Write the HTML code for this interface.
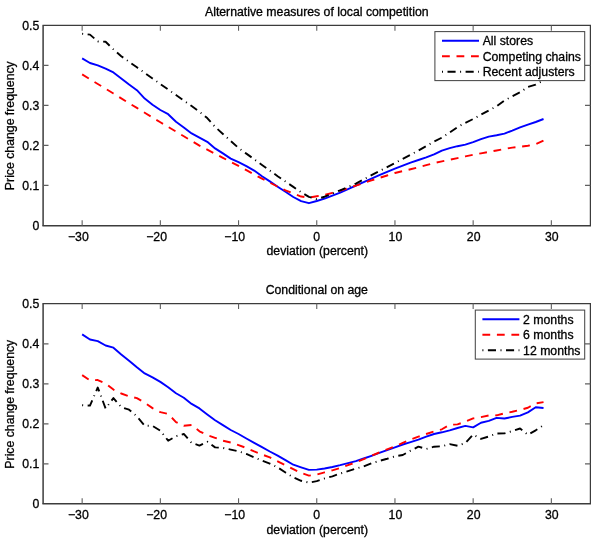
<!DOCTYPE html>
<html><head><meta charset="utf-8"><title>chart</title>
<style>
html,body{margin:0;padding:0;background:#fff;}
svg{display:block;filter:blur(0.3px)}
text{font-family:"Liberation Sans",sans-serif;font-size:12.28px;fill:#000;stroke:#000;stroke-width:0.3px;}
</style></head><body>
<svg width="600" height="539" viewBox="0 0 600 539">
<rect x="0" y="0" width="600" height="539" fill="#fff"/>

<path d="M82.15,58.40 L89.97,63.00 L97.79,65.40 L105.61,68.60 L113.43,72.40 L121.25,78.40 L129.07,84.60 L136.89,90.20 L144.71,98.60 L152.53,104.72 L160.35,110.00 L168.17,114.20 L175.99,121.80 L183.81,127.40 L191.63,133.40 L199.45,137.60 L207.27,141.80 L215.09,148.40 L222.91,153.40 L230.73,158.60 L238.55,162.20 L246.37,166.20 L254.19,170.60 L262.01,176.20 L269.83,181.40 L277.65,186.72 L285.47,191.80 L293.29,197.00 L301.11,201.20 L308.93,203.20 L316.75,201.00 L324.57,198.60 L332.39,195.60 L340.21,192.60 L348.03,189.20 L355.85,185.60 L363.67,182.20 L371.49,178.60 L379.31,175.20 L387.13,171.80 L394.95,168.60 L402.77,165.60 L410.59,162.60 L418.41,160.00 L426.23,157.40 L434.05,154.40 L441.87,150.60 L449.69,148.20 L457.51,146.20 L465.33,144.60 L473.15,142.20 L480.97,139.20 L488.79,136.60 L496.61,135.20 L504.43,133.60 L512.25,130.60 L520.07,127.40 L527.89,124.60 L535.71,122.00 L543.53,119.00" fill="none" stroke="#0000ff" stroke-width="1.9" stroke-linejoin="round"/>
<path d="M82.15,74.40 L89.97,79.19 L97.79,83.98 L105.61,88.76 L113.43,93.55 L121.25,98.34 L129.07,103.13 L136.89,107.92 L144.71,112.70 L152.53,117.49 L160.35,122.28 L168.17,126.94 L175.99,131.61 L183.81,136.27 L191.63,140.94 L199.45,145.60 L207.27,149.66 L215.09,153.73 L222.91,157.79 L230.73,161.86 L238.55,165.92 L246.37,170.17 L254.19,174.43 L262.01,178.68 L269.83,182.64 L277.65,186.60 L285.47,190.28 L293.29,193.60 L301.11,196.52 L308.93,197.52 L316.75,196.28 L324.57,194.92 L332.39,192.82 L340.21,190.72 L348.03,188.16 L355.85,185.60 L363.67,183.00 L371.49,180.40 L379.31,177.93 L387.13,175.47 L394.95,173.00 L402.77,171.13 L410.59,169.27 L418.41,167.40 L426.23,165.20 L434.05,163.00 L441.87,161.36 L449.69,159.72 L457.51,158.08 L465.33,156.44 L473.15,154.80 L480.97,153.36 L488.79,151.92 L496.61,150.48 L504.43,149.04 L512.25,147.60 L520.07,146.70 L527.89,145.80 L535.71,144.20 L543.53,140.60" fill="none" stroke="#ff0000" stroke-width="1.9" stroke-linejoin="round" stroke-dasharray="7.8 6.7"/>
<path d="M82.15,33.80 L89.97,34.60 L97.79,41.40 L105.61,41.80 L113.43,49.40 L121.25,56.20 L129.07,61.76 L136.89,67.32 L144.71,72.88 L152.53,78.44 L160.35,84.00 L168.17,89.53 L175.99,95.07 L183.81,100.60 L191.63,106.08 L199.45,111.80 L207.27,118.08 L215.09,126.88 L222.91,133.92 L230.73,140.96 L238.55,148.00 L246.37,153.64 L254.19,159.28 L262.01,164.92 L269.83,170.56 L277.65,176.20 L285.47,181.53 L293.29,186.87 L301.11,192.20 L308.93,196.92 L316.75,199.12 L324.57,196.72 L332.39,193.60 L340.21,190.27 L348.03,186.93 L355.85,183.60 L363.67,179.40 L371.49,175.20 L379.31,171.13 L387.13,167.07 L394.95,163.00 L402.77,158.87 L410.59,154.73 L418.41,150.60 L426.23,146.10 L434.05,141.60 L441.87,137.60 L449.69,132.60 L457.51,127.08 L465.33,122.80 L473.15,119.00 L480.97,114.60 L488.79,110.44 L496.61,106.32 L504.43,100.44 L512.25,96.40 L520.07,92.28 L527.89,87.00 L535.71,84.68 L543.53,80.40" fill="none" stroke="#000000" stroke-width="1.9" stroke-linejoin="round" stroke-dasharray="1.0 4.5 8.1 4.5"/>
<path d="M42.5,25.4 H591.0" stroke="#3c3c3c" stroke-width="1.25" fill="none"/>
<path d="M42.4,225.7 H591.0" stroke="#3c3c3c" stroke-width="1.6" fill="none"/>
<path d="M43.1,25.4 V225.7" stroke="#3c3c3c" stroke-width="1.5" fill="none"/>
<path d="M590.4,25.4 V225.7" stroke="#3c3c3c" stroke-width="1.25" fill="none"/>
<path d="M82.15,225.7 v-5.4 M82.15,25.4 v5.4 M160.35,225.7 v-5.4 M160.35,25.4 v5.4 M238.55,225.7 v-5.4 M238.55,25.4 v5.4 M316.75,225.7 v-5.4 M316.75,25.4 v5.4 M394.95,225.7 v-5.4 M394.95,25.4 v5.4 M473.15,225.7 v-5.4 M473.15,25.4 v5.4 M551.35,225.7 v-5.4 M551.35,25.4 v5.4 M43.1,185.4 h5.4 M590.4,185.4 h-5.4 M43.1,145.4 h5.4 M590.4,145.4 h-5.4 M43.1,105.4 h5.4 M590.4,105.4 h-5.4 M43.1,65.4 h5.4 M590.4,65.4 h-5.4" fill="none" stroke="#606060" stroke-width="1.1"/>
<text x="78.35" y="240.6" text-anchor="middle">−30</text>
<text x="156.55" y="240.6" text-anchor="middle">−20</text>
<text x="234.75" y="240.6" text-anchor="middle">−10</text>
<text x="316.75" y="240.6" text-anchor="middle">0</text>
<text x="395.45" y="240.6" text-anchor="middle">10</text>
<text x="473.65" y="240.6" text-anchor="middle">20</text>
<text x="551.85" y="240.6" text-anchor="middle">30</text>
<text x="39.3" y="229.6" text-anchor="end">0</text>
<text x="39.3" y="189.6" text-anchor="end">0.1</text>
<text x="39.3" y="149.6" text-anchor="end">0.2</text>
<text x="39.3" y="109.6" text-anchor="end">0.3</text>
<text x="39.3" y="69.6" text-anchor="end">0.4</text>
<text x="39.3" y="29.6" text-anchor="end">0.5</text>
<text x="316.8" y="15.9" text-anchor="middle">Alternative measures of local competition</text>
<text x="317.3" y="255.4" text-anchor="middle">deviation (percent)</text>
<text transform="translate(14.2,125.7) rotate(-90)" text-anchor="middle">Price change frequency</text>
<rect x="434.9" y="31.6" width="149.80" height="49" fill="#fff" stroke="#484848" stroke-width="1.05"/>
<path d="M442.0,40.8 h37" fill="none" stroke="#0000ff" stroke-width="1.9"/>
<text x="482.7" y="45.4">All stores</text>
<path d="M442.0,56.3 h37" fill="none" stroke="#ff0000" stroke-width="1.9" stroke-dasharray="7.8 6.7"/>
<text x="482.7" y="60.9">Competing chains</text>
<path d="M442.0,71.8 h37" fill="none" stroke="#000000" stroke-width="1.9" stroke-dasharray="1.0 4.5 8.1 4.5"/>
<text x="482.7" y="76.39999999999999">Recent adjusters</text>
<path d="M82.15,334.38 L89.97,339.50 L97.79,341.10 L105.61,345.50 L113.43,347.70 L121.25,354.42 L129.07,360.70 L136.89,367.30 L144.71,373.38 L152.53,377.38 L160.35,381.90 L168.17,387.30 L175.99,393.22 L183.81,397.70 L191.63,403.90 L199.45,408.38 L207.27,414.38 L215.09,420.18 L222.91,425.10 L230.73,429.98 L238.55,433.98 L246.37,438.50 L254.19,442.90 L262.01,447.18 L269.83,451.50 L277.65,455.58 L285.47,460.10 L293.29,464.70 L301.11,467.38 L308.93,469.90 L316.75,469.58 L324.57,468.50 L332.39,466.98 L340.21,465.18 L348.03,463.18 L355.85,461.18 L363.67,458.50 L371.49,455.78 L379.31,452.90 L387.13,450.14 L394.95,447.38 L402.77,444.50 L410.59,442.10 L418.41,439.58 L426.23,436.70 L434.05,433.98 L441.87,432.30 L449.69,430.30 L457.51,427.98 L465.33,425.90 L473.15,427.38 L480.97,422.70 L488.79,420.90 L496.61,417.90 L504.43,418.50 L512.25,416.90 L520.07,415.58 L527.89,412.38 L535.71,407.30 L543.53,407.98" fill="none" stroke="#0000ff" stroke-width="1.9" stroke-linejoin="round"/>
<path d="M82.15,375.10 L89.97,380.30 L97.79,380.02 L105.61,383.50 L113.43,389.62 L121.25,393.50 L129.07,396.30 L136.89,398.10 L144.71,402.70 L152.53,408.10 L160.35,412.10 L168.17,413.90 L175.99,422.06 L183.81,425.70 L191.63,424.94 L199.45,431.30 L207.27,435.10 L215.09,437.78 L222.91,440.70 L230.73,442.50 L238.55,445.10 L246.37,447.98 L254.19,451.38 L262.01,454.50 L269.83,457.38 L277.65,461.38 L285.47,465.18 L293.29,469.18 L301.11,472.98 L308.93,475.58 L316.75,474.50 L324.57,472.30 L332.39,470.30 L340.21,468.10 L348.03,465.18 L355.85,462.30 L363.67,459.18 L371.49,455.78 L379.31,452.50 L387.13,449.34 L394.95,446.30 L402.77,442.98 L410.59,439.58 L418.41,436.70 L426.23,433.98 L434.05,431.38 L441.87,429.30 L449.69,424.78 L457.51,424.38 L465.33,421.70 L473.15,418.38 L480.97,417.18 L488.79,415.50 L496.61,415.30 L504.43,413.30 L512.25,411.78 L520.07,409.98 L527.89,407.78 L535.71,403.38 L543.53,402.10" fill="none" stroke="#ff0000" stroke-width="1.9" stroke-linejoin="round" stroke-dasharray="7.8 6.7"/>
<path d="M82.15,405.22 L89.97,405.62 L97.79,387.50 L105.61,408.50 L113.43,398.10 L121.25,407.10 L129.07,409.70 L136.89,416.30 L144.71,425.70 L152.53,425.90 L160.35,430.70 L168.17,440.70 L175.99,436.18 L183.81,433.98 L191.63,442.90 L199.45,445.58 L207.27,441.78 L215.09,447.38 L222.91,447.98 L230.73,449.58 L238.55,451.38 L246.37,453.98 L254.19,457.38 L262.01,460.70 L269.83,463.58 L277.65,467.38 L285.47,472.50 L293.29,477.38 L301.11,480.78 L308.93,482.58 L316.75,481.18 L324.57,478.50 L332.39,476.30 L340.21,473.58 L348.03,471.18 L355.85,468.62 L363.67,466.50 L371.49,463.30 L379.31,460.90 L387.13,458.74 L394.95,456.38 L402.77,455.02 L410.59,450.62 L418.41,446.70 L426.23,448.90 L434.05,446.70 L441.87,446.30 L449.69,444.10 L457.51,445.78 L465.33,442.98 L473.15,434.50 L480.97,438.90 L488.79,436.50 L496.61,433.58 L504.43,433.38 L512.25,431.10 L520.07,428.50 L527.89,434.70 L535.71,430.30 L543.53,425.10" fill="none" stroke="#000000" stroke-width="1.9" stroke-linejoin="round" stroke-dasharray="1.0 4.5 8.1 4.5"/>
<path d="M42.5,303.6 H591.0" stroke="#3c3c3c" stroke-width="1.25" fill="none"/>
<path d="M42.4,503.7 H591.0" stroke="#3c3c3c" stroke-width="1.6" fill="none"/>
<path d="M43.1,303.6 V503.7" stroke="#3c3c3c" stroke-width="1.5" fill="none"/>
<path d="M590.4,303.6 V503.7" stroke="#3c3c3c" stroke-width="1.25" fill="none"/>
<path d="M82.15,503.7 v-5.4 M82.15,303.6 v5.4 M160.35,503.7 v-5.4 M160.35,303.6 v5.4 M238.55,503.7 v-5.4 M238.55,303.6 v5.4 M316.75,503.7 v-5.4 M316.75,303.6 v5.4 M394.95,503.7 v-5.4 M394.95,303.6 v5.4 M473.15,503.7 v-5.4 M473.15,303.6 v5.4 M551.35,503.7 v-5.4 M551.35,303.6 v5.4 M43.1,463.9 h5.4 M590.4,463.9 h-5.4 M43.1,423.9 h5.4 M590.4,423.9 h-5.4 M43.1,383.9 h5.4 M590.4,383.9 h-5.4 M43.1,343.9 h5.4 M590.4,343.9 h-5.4" fill="none" stroke="#606060" stroke-width="1.1"/>
<text x="78.35" y="519.1" text-anchor="middle">−30</text>
<text x="156.55" y="519.1" text-anchor="middle">−20</text>
<text x="234.75" y="519.1" text-anchor="middle">−10</text>
<text x="316.75" y="519.1" text-anchor="middle">0</text>
<text x="395.45" y="519.1" text-anchor="middle">10</text>
<text x="473.65" y="519.1" text-anchor="middle">20</text>
<text x="551.85" y="519.1" text-anchor="middle">30</text>
<text x="39.3" y="508.1" text-anchor="end">0</text>
<text x="39.3" y="468.1" text-anchor="end">0.1</text>
<text x="39.3" y="428.1" text-anchor="end">0.2</text>
<text x="39.3" y="388.1" text-anchor="end">0.3</text>
<text x="39.3" y="348.1" text-anchor="end">0.4</text>
<text x="39.3" y="308.1" text-anchor="end">0.5</text>
<text x="316.8" y="294.4" text-anchor="middle">Conditional on age</text>
<text x="317.3" y="533.9" text-anchor="middle">deviation (percent)</text>
<text transform="translate(14.2,404.2) rotate(-90)" text-anchor="middle">Price change frequency</text>
<rect x="475.3" y="310.1" width="109.40" height="49" fill="#fff" stroke="#484848" stroke-width="1.05"/>
<path d="M482.40000000000003,319.3 h37" fill="none" stroke="#0000ff" stroke-width="1.9"/>
<text x="523.1" y="323.90000000000003">2 months</text>
<path d="M482.40000000000003,334.8 h37" fill="none" stroke="#ff0000" stroke-width="1.9" stroke-dasharray="7.8 6.7"/>
<text x="523.1" y="339.40000000000003">6 months</text>
<path d="M482.40000000000003,350.3 h37" fill="none" stroke="#000000" stroke-width="1.9" stroke-dasharray="1.0 4.5 8.1 4.5"/>
<text x="523.1" y="354.90000000000003">12 months</text>
</svg></body></html>
